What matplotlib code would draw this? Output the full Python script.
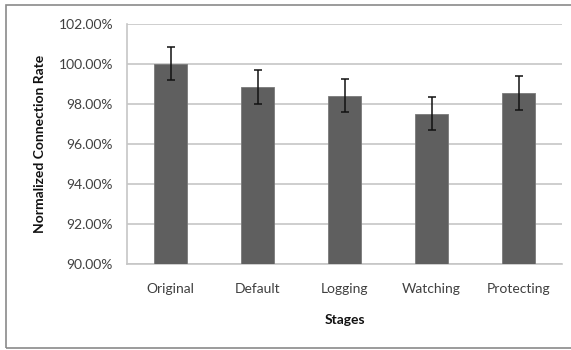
import matplotlib
matplotlib.use("Agg")
import matplotlib.pyplot as plt
from matplotlib.patches import Rectangle
from matplotlib.ticker import FuncFormatter

stages = ["Original", "Default", "Logging", "Watching", "Protecting"]
rates = [100.00, 98.82, 98.40, 97.50, 98.53]
errors = [0.82, 0.84, 0.83, 0.83, 0.83]
yticks = [90, 92, 94, 96, 98, 100, 102]

plt.rcParams['font.family'] = ['Lato', 'DejaVu Sans']

fig = plt.figure(figsize=(5.71, 3.5), dpi=100)
ax = fig.add_axes([127/571, 1-264/350, (562-127)/571, (264-23.5)/350])

x = list(range(len(stages)))
ax.bar(x, rates, width=0.39, bottom=0, color="#5f5f5f", edgecolor="#7a7a7a",
       linewidth=0.6, zorder=3)
ax.errorbar(x, rates, yerr=errors, fmt="none", ecolor="#111111", elinewidth=1.1,
            capsize=3, capthick=1.1, zorder=4)

ax.set_xlim(-0.5, len(stages) - 0.5)
ax.set_ylim(90, 102)
ax.set_yticks(yticks)
ax.yaxis.set_major_formatter(FuncFormatter(lambda v, p: f"{v:.2f}%"))
ax.set_xticks(x)
ax.set_xticklabels(stages)

ax.grid(axis="y", color="#c6c6c6", linewidth=1.2, zorder=0)
ax.set_axisbelow(True)
for s in ["top", "right"]:
    ax.spines[s].set_visible(False)
ax.spines["left"].set_color("#c6c6c6")
ax.spines["bottom"].set_color("#c6c6c6")
ax.spines["left"].set_linewidth(1.2)
ax.spines["bottom"].set_linewidth(1.2)
ax.tick_params(axis="both", length=0, labelsize=10, colors="#404040")
ax.tick_params(axis="y", pad=10)
ax.tick_params(axis="x", pad=14)

ax.set_xlabel("Stages", fontsize=10, fontweight="bold", color="#111111", labelpad=13)
ax.set_ylabel("Normalized Connection Rate", fontsize=10, fontweight="bold",
              color="#111111", labelpad=9)

fig.patches.append(Rectangle((5.5/571, 1-348/350), 1.0, (348-4.5)/350,
                             transform=fig.transFigure, fill=False,
                             edgecolor="#8a8a8a", linewidth=1.2))

fig.savefig("out.png", dpi=100)
